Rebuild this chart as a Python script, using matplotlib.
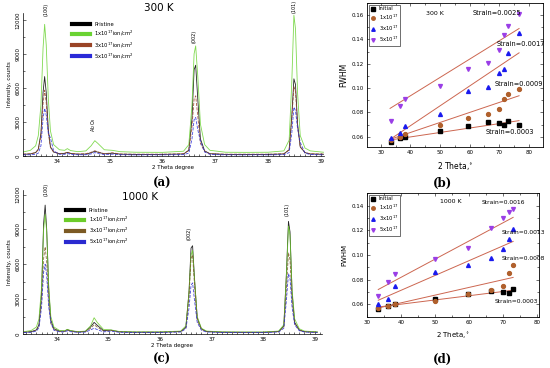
import matplotlib
matplotlib.use('Agg')
import matplotlib.pyplot as plt
from matplotlib.lines import Line2D
from matplotlib.ticker import MultipleLocator
import numpy as np

# ---------------- XRD data (2 theta, intensity)
two_theta = [33.36, 33.50, 33.60, 33.65, 33.70, 33.74, 33.77, 33.80, 33.84, 33.88, 33.94,
             34.05, 34.15, 34.20, 34.26, 34.40, 34.55, 34.65, 34.72, 34.78, 34.90, 35.05,
             35.20, 35.50, 36.00, 36.40, 36.50, 36.56, 36.60, 36.63, 36.67, 36.72, 36.80,
             36.90, 37.20, 37.60, 38.00, 38.30, 38.40, 38.45, 38.49, 38.52, 38.56, 38.61,
             38.70, 38.80, 39.05]

# 300 K
a_pristine = [150, 180, 300, 600, 2000, 5600, 7000, 5600, 2300, 800, 350, 200, 220, 320, 220, 160,
              170, 280, 420, 330, 190, 250, 160, 140, 140, 180, 500, 3300, 7600, 8000, 5000, 1500,
              450, 200, 140, 140, 140, 180, 550, 3500, 6800, 6300, 2800, 800, 300, 180, 150]
a_1e17 = [350, 500, 900, 1800, 4500, 9500, 11600, 9800, 5000, 2200, 1000, 550, 500, 650, 480, 380,
          450, 900, 1350, 1100, 550, 500, 380, 330, 320, 420, 1000, 4500, 9000, 9700, 7000, 2800,
          1000, 500, 330, 320, 330, 450, 1400, 6500, 12400, 11200, 5500, 1800, 700, 450, 330]
a_3e17 = [170, 200, 300, 550, 1800, 4600, 5800, 4700, 2000, 750, 350, 220, 250, 350, 240, 180,
          200, 330, 460, 360, 200, 280, 180, 160, 160, 200, 500, 2600, 5000, 5300, 3500, 1100,
          400, 200, 160, 160, 160, 200, 550, 3200, 6100, 5700, 2600, 800, 300, 200, 170]
a_5e17 = [100, 110, 140, 250, 900, 3300, 4200, 3600, 2000, 1600, 450, 150, 150, 220, 150, 110,
          110, 180, 300, 220, 120, 160, 110, 100, 100, 120, 250, 1500, 3200, 3400, 2300, 1300,
          350, 140, 100, 100, 100, 120, 300, 2000, 4300, 4000, 2400, 1200, 250, 130, 100]

# 1000 K
c_pristine = [150, 200, 350, 800, 3500, 9500, 11100, 9000, 3800, 1200, 450, 250, 250, 380, 280, 180,
              220, 600, 1000, 750, 300, 330, 200, 160, 160, 220, 600, 3600, 7400, 7600, 4600, 1400,
              450, 220, 160, 150, 150, 220, 700, 5200, 9700, 8800, 3600, 1000, 350, 200, 160]
c_1e17 = [200, 300, 600, 1300, 4000, 9000, 10300, 8800, 4000, 1500, 600, 300, 280, 400, 300, 200,
          250, 700, 1400, 1000, 400, 350, 220, 180, 180, 250, 700, 3500, 6800, 7200, 4500, 1500,
          500, 250, 180, 170, 170, 250, 800, 5000, 9300, 8500, 3800, 1300, 450, 250, 180]
c_3e17 = [150, 190, 320, 700, 2800, 6500, 7500, 6200, 2700, 900, 380, 220, 230, 330, 250, 170,
          200, 480, 800, 600, 250, 300, 180, 150, 150, 200, 550, 3200, 6500, 6800, 4000, 1200,
          400, 200, 150, 140, 140, 200, 600, 3800, 7000, 6400, 2800, 900, 320, 190, 150]
c_5e17 = [120, 150, 250, 550, 2300, 5300, 6000, 5000, 2300, 1000, 320, 180, 180, 280, 200, 140,
          160, 350, 500, 380, 180, 250, 150, 130, 130, 170, 450, 2200, 4200, 4400, 2800, 1000,
          330, 170, 130, 120, 120, 170, 500, 2900, 5200, 4800, 2300, 800, 280, 170, 130]

xrd_labels = ['Pristine', r'1x10$^{17}$ion/cm$^2$', r'3x10$^{17}$ion/cm$^2$', r'5x10$^{17}$ion/cm$^2$']
peak_names = ['(100)', '(002)', '(101)']
peak_pos_a = [33.79, 36.61, 38.49]
peak_y_a = [12900, 10500, 13200]
peak_pos_c = [33.79, 36.56, 38.46]
peak_y_c = [12450, 8650, 10700]

# ---------------- FWHM data
theta_b = [33.3, 36.3, 38.2, 50.0, 59.6, 66.3, 70.0, 71.7, 72.9, 76.7]
b_initial = [0.056, 0.059, 0.060, 0.065, 0.069, 0.072, 0.071, 0.070, 0.073, 0.070]
b_1e17 = [0.057, 0.060, 0.062, 0.0695, 0.075, 0.079, 0.083, 0.091, 0.095, 0.099]
b_3e17 = [0.059, 0.063, 0.069, 0.079, 0.098, 0.101, 0.112, 0.116, 0.129, 0.145]
b_5e17 = [0.073, 0.085, 0.091, 0.102, 0.116, 0.121, 0.131, 0.144, 0.151, 0.161]
fit_x_b = [33.1, 76.7]
fit_b = [[0.0573, 0.0732], [0.0578, 0.0937], [0.0578, 0.129], [0.0833, 0.149]]
strain_b = ['Strain=0.0003', 'Strain=0.0009', 'Strain=0.0017', 'Strain=0.0025']
strain_pos_b = [(73.7, 0.0636), (76.5, 0.103), (77.3, 0.136), (69.3, 0.162)]

theta_d = [33.3, 36.3, 38.2, 50.0, 59.6, 66.3, 70.0, 71.7, 72.9]
d_initial = [0.056, 0.059, 0.060, 0.064, 0.068, 0.071, 0.070, 0.069, 0.0725]
d_1e17 = [0.057, 0.0586, 0.0605, 0.063, 0.068, 0.0714, 0.075, 0.0855, 0.0915]
d_3e17 = [0.0605, 0.0646, 0.075, 0.0864, 0.092, 0.0978, 0.1046, 0.1127, 0.121]
d_5e17 = [0.067, 0.078, 0.0845, 0.097, 0.1055, 0.122, 0.130, 0.135, 0.1375]
fit_x_d = [33.3, 72.9]
fit_d = [[0.0578, 0.0714], [0.057, 0.0818], [0.0633, 0.111], [0.072, 0.1305]]
strain_d = ['Strain=0.0003', 'Strain=0.0008', 'Strain=0.0013', 'Strain=0.0016']
strain_pos_d = [(73.9, 0.0624), (76.0, 0.0973), (75.8, 0.1185), (70.0, 0.1427)]

fwhm_labels = ['Initial', r'1x10$^{17}$', r'3x10$^{17}$', r'5x10$^{17}$']

xrd_colors_a = ['#000000', '#6ad332', '#9a4426', '#2a2ad8']
xrd_colors_c = ['#000000', '#6ccc2a', '#7c5a24', '#2a2ad0']
mk_colors = ['#000000', '#b0602c', '#1a1aee', '#9a3ee6']
mk_shapes = ['s', 'o', '^', 'v']
fit_color = '#cc6650'

fig = plt.figure(figsize=(5.5, 3.68), dpi=100)


def xrd_panel(rect, curves, colors, title, tpos, pnames, ppos, py, ytop, xlim, leg_anchor):
    ax = fig.add_axes(rect)
    styles = ['-', '-', '--', '--']
    for yv, c, ls in zip(curves, colors, styles):
        ax.plot(two_theta, yv, color=c, lw=0.6, ls=ls, alpha=0.85)
    ax.set_xlim(*xlim)
    ax.set_ylim(0, ytop)
    ax.spines['top'].set_visible(False)
    ax.spines['right'].set_visible(False)
    for s in ['left', 'bottom']:
        ax.spines[s].set_linewidth(0.5)
    ax.set_xticks([34, 35, 36, 37, 38, 39])
    ax.xaxis.set_minor_locator(MultipleLocator(0.1))
    ax.set_yticks([0, 3000, 6000, 9000, 12000])
    ax.yaxis.set_minor_locator(MultipleLocator(1500))
    ax.tick_params(which='both', direction='in', labelsize=4, width=0.4, pad=2)
    ax.tick_params(which='major', length=2.5)
    ax.tick_params(which='minor', length=1.2)
    for lab in ax.get_yticklabels():
        lab.set_rotation(90)
        lab.set_va('center')
    ax.set_xlabel('2 Theta degree', fontsize=4, labelpad=1)
    ax.set_ylabel('Intensity, counts', fontsize=4, labelpad=2)
    ax.text(tpos[0], tpos[1], title, transform=ax.transAxes, fontsize=7.5, ha='center', va='center')
    for n, x, y in zip(pnames, ppos, py):
        ax.text(x, y, n, rotation=90, fontsize=3.5, ha='center', va='center', clip_on=False)
    handles = [Line2D([0], [0], color=c, lw=3) for c in colors]
    ax.legend(handles, xrd_labels, loc='upper left', bbox_to_anchor=leg_anchor, frameon=False,
              fontsize=3.8, handlelength=3.4, handletextpad=0.8, labelspacing=0.35,
              borderpad=0, borderaxespad=0)
    return ax


ax_a = xrd_panel([0.0418, 0.5761, 0.5473, 0.3886], [a_pristine, a_1e17, a_3e17, a_5e17],
                 xrd_colors_a, '300 K', (0.452, 1.035), peak_names, peak_pos_a, peak_y_a,
                 12600, (33.36, 39.06), (0.163, 0.935))
ax_a.text(34.70, 2800, r'Al$_2$O$_3$', rotation=90, fontsize=3.5, ha='center', va='center')

ax_c = xrd_panel([0.0418, 0.0924, 0.5436, 0.3913], [c_pristine, c_1e17, c_3e17, c_5e17],
                 xrd_colors_c, '1000 K', (0.391, 0.951), peak_names, peak_pos_c, peak_y_c,
                 12400, (33.34, 39.14), (0.145, 0.875))


def fwhm_panel(rect, tx, series, fx, fits, strains, spos, title, tpos, xlim, ylim, xt, yt,
               lab_fs, st_fs):
    ax = fig.add_axes(rect)
    for fy in fits:
        ax.plot(fx, fy, color=fit_color, lw=0.7)
    for yv, c, m, lab in zip(series, mk_colors, mk_shapes, fwhm_labels):
        ax.plot(tx, yv, ls='none', marker=m, ms=2.8, color=c, mec=c, label=lab)
    for s, (x, y) in zip(strains, spos):
        ax.text(x, y, s, fontsize=st_fs, ha='center', va='center')
    ax.text(tpos[0], tpos[1], title, fontsize=4.5, ha='center', va='center')
    ax.set_xlim(*xlim)
    ax.set_ylim(*ylim)
    ax.set_xticks(xt)
    ax.set_yticks(yt)
    ax.set_yticklabels(['%.2f' % v for v in yt])
    ax.xaxis.set_minor_locator(MultipleLocator(5))
    ax.yaxis.set_minor_locator(MultipleLocator(0.01))
    ax.tick_params(which='both', direction='in', top=True, right=True, labelsize=4,
                   width=0.4, pad=2)
    ax.tick_params(which='major', length=2.5)
    ax.tick_params(which='minor', length=1.3)
    for s in ax.spines.values():
        s.set_linewidth(0.6)
    ax.set_xlabel('2 Theta,$^{\\circ}$', fontsize=lab_fs, labelpad=4)
    ax.set_ylabel('FWHM', fontsize=lab_fs, labelpad=3)
    leg = ax.legend(loc='upper left', fontsize=3.8, frameon=True, fancybox=False,
                    edgecolor='black', borderpad=0.35, labelspacing=0.3, handlelength=0.8,
                    handletextpad=0.8, borderaxespad=0.3, markerscale=0.9)
    leg.get_frame().set_linewidth(0.5)
    return ax


fwhm_panel([0.6673, 0.6005, 0.32, 0.3913], theta_b, [b_initial, b_1e17, b_3e17, b_5e17],
           fit_x_b, fit_b, strain_b, strain_pos_b, '300 K', (48.3, 0.161),
           (25.3, 84.8), (0.0515, 0.170), [30, 40, 50, 60, 70, 80],
           [0.06, 0.08, 0.10, 0.12, 0.14, 0.16], 5.5, 4.8)
fwhm_panel([0.6673, 0.1386, 0.3127, 0.337], theta_d, [d_initial, d_1e17, d_3e17, d_5e17],
           fit_x_d, fit_d, strain_d, strain_pos_d, '1000 K', (54.5, 0.1435),
           (30, 80.5), (0.0497, 0.1503), [30, 40, 50, 60, 70, 80],
           [0.06, 0.08, 0.10, 0.12, 0.14], 5, 4.3)

for lab, x, y in [('(a)', 162, 183), ('(b)', 443, 183), ('(c)', 162, 359), ('(d)', 443, 359)]:
    fig.text(x / 550, 1 - y / 368, lab, fontsize=8.5, fontweight='bold', family='DejaVu Serif',
             ha='center', va='center')

fig.savefig('out.png', dpi=100)
